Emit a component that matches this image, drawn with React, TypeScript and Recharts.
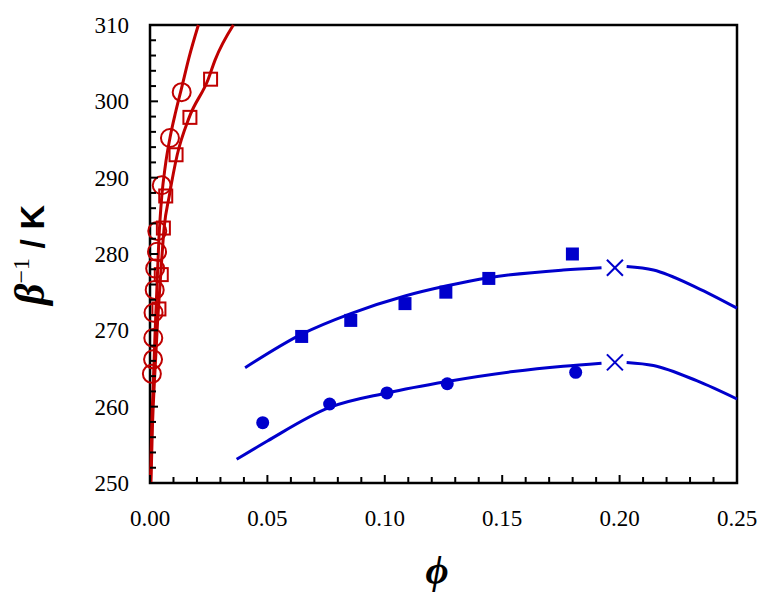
import { ComposedChart, Line, Scatter, XAxis, YAxis, ReferenceArea, Label } from "recharts";

const RED = "#c00000";
const BLUE = "#0000cc";

// tick values (minor + major)
const xTicks = [0, 0.01, 0.02, 0.03, 0.04, 0.05, 0.06, 0.07, 0.08, 0.09, 0.1, 0.11, 0.12, 0.13, 0.14, 0.15, 0.16, 0.17, 0.18, 0.19, 0.2, 0.21, 0.22, 0.23, 0.24, 0.25];
const xMajor = [0, 0.05, 0.1, 0.15, 0.2, 0.25];
const yTicks = [250, 252, 254, 256, 258, 260, 262, 264, 266, 268, 270, 272, 274, 276, 278, 280, 282, 284, 286, 288, 290, 292, 294, 296, 298, 300, 302, 304, 306, 308, 310];
const yMajor = [250, 260, 270, 280, 290, 300, 310];

// red open circles
const redCircles = [
  { phi: 0.0135, t: 301.2 },
  { phi: 0.0085, t: 295.2 },
  { phi: 0.005, t: 289.0 },
  { phi: 0.0031, t: 283.0 },
  { phi: 0.003, t: 280.3 },
  { phi: 0.0022, t: 278.1 },
  { phi: 0.002, t: 275.3 },
  { phi: 0.0015, t: 272.3 },
  { phi: 0.0014, t: 269.0 },
  { phi: 0.0013, t: 266.2 },
  { phi: 0.0008, t: 264.3 },
];

// red open squares
const redSquares = [
  { phi: 0.0258, t: 302.9 },
  { phi: 0.017, t: 297.9 },
  { phi: 0.0111, t: 293.0 },
  { phi: 0.0067, t: 287.6 },
  { phi: 0.0057, t: 283.4 },
  { phi: 0.0048, t: 277.3 },
  { phi: 0.0038, t: 272.8 },
];

// red fitted curves
const redCurveA = [
  { phi: 0.0002, t: 250 },
  { phi: 0.0008, t: 258 },
  { phi: 0.0014, t: 263 },
  { phi: 0.0022, t: 270 },
  { phi: 0.003, t: 276 },
  { phi: 0.0038, t: 282 },
  { phi: 0.005, t: 287.5 },
  { phi: 0.0065, t: 291.5 },
  { phi: 0.0085, t: 295.2 },
  { phi: 0.011, t: 298.7 },
  { phi: 0.0135, t: 301.8 },
  { phi: 0.0165, t: 305.6 },
  { phi: 0.0206, t: 310 },
];
const redCurveB = [
  { phi: 0.0004, t: 250 },
  { phi: 0.001, t: 257 },
  { phi: 0.002, t: 264 },
  { phi: 0.0032, t: 271 },
  { phi: 0.0045, t: 277 },
  { phi: 0.006, t: 283.4 },
  { phi: 0.0082, t: 287.6 },
  { phi: 0.0116, t: 293 },
  { phi: 0.0167, t: 297.9 },
  { phi: 0.0248, t: 302.9 },
  { phi: 0.0277, t: 305.4 },
  { phi: 0.0355, t: 310 },
];

// blue filled squares / circles
const blueSquares = [
  { phi: 0.0646, t: 269.2 },
  { phi: 0.0855, t: 271.3 },
  { phi: 0.1086, t: 273.5 },
  { phi: 0.126, t: 275.0 },
  { phi: 0.1443, t: 276.8 },
  { phi: 0.1799, t: 280.0 },
];
const blueCircles = [
  { phi: 0.048, t: 257.9 },
  { phi: 0.0765, t: 260.35 },
  { phi: 0.1009, t: 261.8 },
  { phi: 0.1266, t: 263.0 },
  { phi: 0.1813, t: 264.5 },
];
const crosses = [
  { phi: 0.198, t: 278.2 },
  { phi: 0.198, t: 265.8 },
];

// blue curves, split at the cross
const upperLeft = [
  { phi: 0.0405, t: 265.1 },
  { phi: 0.0646, t: 269.5 },
  { phi: 0.0855, t: 272.2 },
  { phi: 0.1086, t: 274.5 },
  { phi: 0.126, t: 275.8 },
  { phi: 0.1443, t: 276.9 },
  { phi: 0.176, t: 277.9 },
  { phi: 0.1923, t: 278.2 },
];
const upperRight = [
  { phi: 0.203, t: 278.35 },
  { phi: 0.2144, t: 277.9 },
  { phi: 0.2328, t: 275.6 },
  { phi: 0.25, t: 272.9 },
];
const lowerLeft = [
  { phi: 0.0369, t: 253.1 },
  { phi: 0.05, t: 255.5 },
  { phi: 0.0765, t: 259.9 },
  { phi: 0.1009, t: 261.8 },
  { phi: 0.1266, t: 263.3 },
  { phi: 0.1547, t: 264.6 },
  { phi: 0.176, t: 265.3 },
  { phi: 0.1923, t: 265.7 },
];
const lowerRight = [
  { phi: 0.203, t: 265.8 },
  { phi: 0.2144, t: 265.4 },
  { phi: 0.2328, t: 263.4 },
  { phi: 0.25, t: 261.0 },
];

const SERIF = "Liberation Serif";
const SANS = "Liberation Sans";

const isIn = (list: number[], v: number) => list.some((m) => Math.abs(m - v) < 1e-9);

const XTick = (props: any) => {
  const { x, y, payload } = props;
  const major = isIn(xMajor, payload.value);
  return (
    <g>
      <line x1={x} x2={x} y1={y} y2={y - (major ? 8 : 6)} stroke="#000" strokeWidth={2} />
      {major && (
        <text x={x} y={y + 43} textAnchor="middle" fontFamily={SERIF} fontSize={23} fill="#000">
          {payload.value.toFixed(2)}
        </text>
      )}
    </g>
  );
};

const YTick = (props: any) => {
  const { x, y, payload } = props;
  const major = isIn(yMajor, payload.value);
  return (
    <g>
      <line x1={x} x2={x + (major ? 8 : 6)} y1={y} y2={y} stroke="#000" strokeWidth={2} />
      {major && (
        <text x={x - 21} y={y + 8} textAnchor="end" fontFamily={SERIF} fontSize={23} fill="#000">
          {payload.value}
        </text>
      )}
    </g>
  );
};

const OpenCircle = (p: any) => <circle cx={p.cx} cy={p.cy} r={9} fill="none" stroke={RED} strokeWidth={2} />;
const OpenSquare = (p: any) => <rect x={p.cx - 6.5} y={p.cy - 6.5} width={13} height={13} fill="none" stroke={RED} strokeWidth={2} />;
const FilledSquare = (p: any) => <rect x={p.cx - 6.5} y={p.cy - 6.5} width={13} height={13} fill={BLUE} />;
const FilledCircle = (p: any) => <circle cx={p.cx} cy={p.cy} r={6.5} fill={BLUE} />;
const Cross = (p: any) => (
  <g stroke={BLUE} strokeWidth={2}>
    <line x1={p.cx - 8} y1={p.cy - 8} x2={p.cx + 8} y2={p.cy + 8} />
    <line x1={p.cx - 8} y1={p.cy + 8} x2={p.cx + 8} y2={p.cy - 8} />
  </g>
);

export default function App() {
  return (
    <div style={{ position: "absolute", left: 0, top: 0, background: "#fff" }}>
      <ComposedChart width={773} height={599} margin={{ top: 25, right: 36, bottom: 76, left: 90 }}>
        <XAxis
          type="number"
          dataKey="phi"
          domain={[0, 0.25]}
          ticks={xTicks}
          interval={0}
          height={40}
          tickSize={0}
          tickMargin={0}
          tickLine={false}
          axisLine={false}
          tick={<XTick />}
        >
          <Label
            content={() => (
              <text x={437} y={583} textAnchor="middle" fontFamily={SERIF} fontSize={40} fontWeight="bold" fontStyle="italic" fill="#000">
                ϕ
              </text>
            )}
          />
        </XAxis>
        <YAxis
          type="number"
          dataKey="t"
          domain={[250, 310]}
          ticks={yTicks}
          interval={0}
          width={60}
          tickSize={0}
          tickMargin={0}
          tickLine={false}
          axisLine={false}
          tick={<YTick />}
        >
          <Label
            content={() => (
              <text x={44} y={255} textAnchor="middle" transform="rotate(-90 44 255)" fill="#000">
                <tspan fontFamily={SERIF} fontSize={42} fontWeight="bold" fontStyle="italic">β</tspan>
                <tspan fontFamily={SERIF} fontSize={24} dy={-15}>−1</tspan>
                <tspan fontFamily={SANS} fontSize={34} fontWeight="bold" dy={15}> / K</tspan>
              </text>
            )}
          />
        </YAxis>
        <ReferenceArea x1={0} x2={0.25} y1={250} y2={310} fill="none" stroke="#000" strokeWidth={2.5} />

        <Line data={upperLeft} dataKey="t" type="monotone" stroke={BLUE} strokeWidth={3} dot={false} isAnimationActive={false} />
        <Line data={upperRight} dataKey="t" type="monotone" stroke={BLUE} strokeWidth={3} dot={false} isAnimationActive={false} />
        <Line data={lowerLeft} dataKey="t" type="monotone" stroke={BLUE} strokeWidth={3} dot={false} isAnimationActive={false} />
        <Line data={lowerRight} dataKey="t" type="monotone" stroke={BLUE} strokeWidth={3} dot={false} isAnimationActive={false} />

        <Scatter data={blueSquares} dataKey="t" shape={FilledSquare} isAnimationActive={false} />
        <Scatter data={blueCircles} dataKey="t" shape={FilledCircle} isAnimationActive={false} />
        <Scatter data={crosses} dataKey="t" shape={Cross} isAnimationActive={false} />

        <Scatter data={redCircles} dataKey="t" shape={OpenCircle} isAnimationActive={false} />
        <Scatter data={redSquares} dataKey="t" shape={OpenSquare} isAnimationActive={false} />
        <Line data={redCurveA} dataKey="t" type="monotone" stroke={RED} strokeWidth={3} dot={false} isAnimationActive={false} />
        <Line data={redCurveB} dataKey="t" type="monotone" stroke={RED} strokeWidth={3} dot={false} isAnimationActive={false} />
      </ComposedChart>
    </div>
  );
}
